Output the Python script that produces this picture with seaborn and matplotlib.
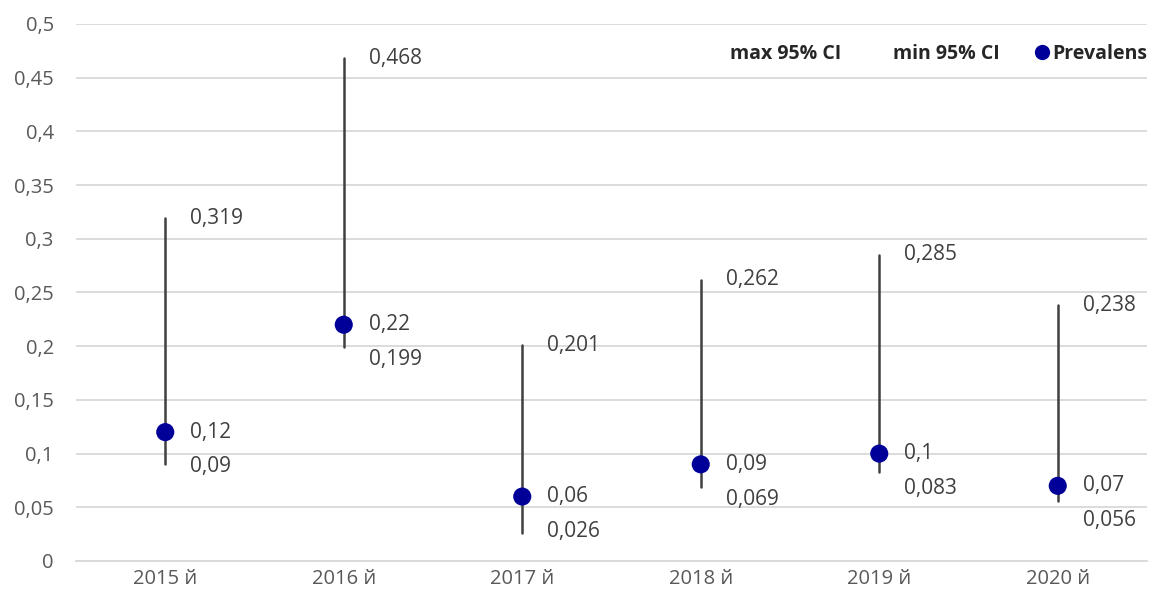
import matplotlib
matplotlib.use("Agg")
import matplotlib.pyplot as plt
from matplotlib.lines import Line2D
from matplotlib.ticker import MultipleLocator, FuncFormatter
import seaborn as sns
import pandas as pd

years = ["2015 й", "2016 й", "2017 й", "2018 й", "2019 й", "2020 й"]
ci_max = [0.319, 0.468, 0.201, 0.262, 0.285, 0.238]
ci_min = [0.09, 0.199, 0.026, 0.069, 0.083, 0.056]
prevalens = [0.12, 0.22, 0.06, 0.09, 0.1, 0.07]

sns.set_style("white")
plt.rcParams["font.family"] = ["Open Sans", "DejaVu Sans"]

def fmt(v):
    return f"{v:g}".replace(".", ",")

df = pd.DataFrame({"year": years, "max": ci_max, "min": ci_min, "prev": prevalens})
long = df.melt(id_vars="year", value_vars=["min", "max"], value_name="val")

fig = plt.figure(figsize=(11.61, 6.01), dpi=100)
ax = fig.add_axes([76 / 1161, 40 / 601, (1147 - 76) / 1161, (561 - 24) / 601])

# vertikale linjer min..max
sns.lineplot(data=long, x="year", y="val", units="year", estimator=None,
             color="#404040", linewidth=1.8, ax=ax, legend=False)
sns.scatterplot(data=df, x="year", y="prev", color="#000099", s=170,
                edgecolor="none", ax=ax, legend=False, zorder=5)

lab = dict(fontsize=15, color="#404040", va="center", ha="left")
for i in range(len(years)):
    ax.annotate(fmt(ci_max[i]), (i, ci_max[i]), xytext=(18, 0),
                textcoords="offset points", **lab)
    ax.annotate(fmt(prevalens[i]), (i, prevalens[i]), xytext=(18, 0),
                textcoords="offset points", **lab)
    ax.annotate(fmt(ci_min[i]), (i, prevalens[i]), xytext=(18, -25),
                textcoords="offset points", **lab)

ax.set_ylim(0, 0.5)
ax.set_xlim(-0.5, len(years) - 0.5)
ax.yaxis.set_major_locator(MultipleLocator(0.05))
ax.yaxis.set_major_formatter(FuncFormatter(lambda v, p: fmt(round(v, 2))))
ax.grid(axis="y", color="#D9D9D9", linewidth=1.3)
ax.set_axisbelow(True)
for s in ["top", "right", "left"]:
    ax.spines[s].set_visible(False)
ax.spines["bottom"].set_color("#D9D9D9")
ax.spines["bottom"].set_linewidth(1.3)
ax.tick_params(axis="both", length=0, labelsize=14.5, labelcolor="#595959")
ax.tick_params(axis="y", pad=16)
ax.tick_params(axis="x", pad=6)
ax.set_xlabel("")
ax.set_ylabel("")

handles = [
    Line2D([], [], linestyle="none"),
    Line2D([], [], linestyle="none"),
    Line2D([], [], linestyle="none", marker="o", markersize=11,
           markerfacecolor="#000099", markeredgecolor="none"),
]
ax.legend(handles, ["max 95% CI", "min 95% CI", "Prevalens"], ncol=3,
          loc="upper right", bbox_to_anchor=(1.017, 0.995), frameon=False,
          handlelength=0.7, handletextpad=0.2, columnspacing=1.8,
          prop={"weight": "bold", "size": 14})

fig.savefig("out.png", dpi=100)
